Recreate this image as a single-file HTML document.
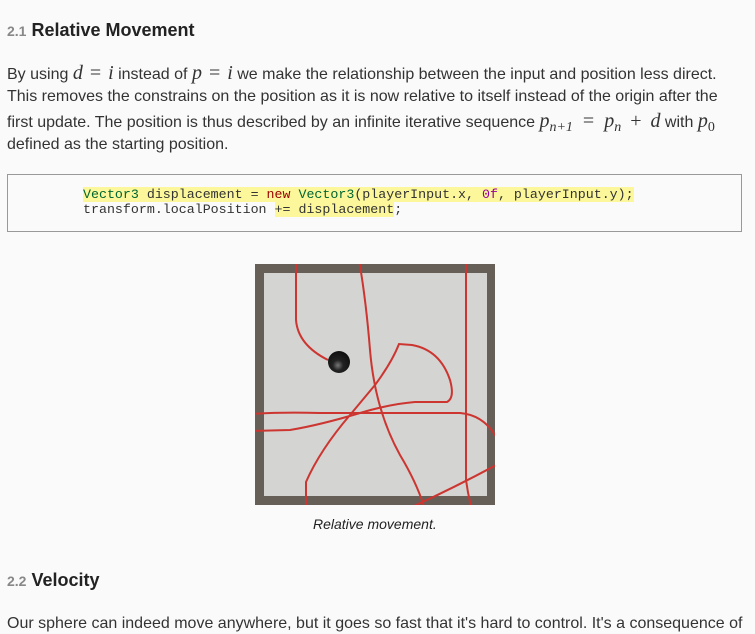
<!DOCTYPE html>
<html><head><meta charset="utf-8"><style>
body{margin:0;background:#fafafa;width:755px;height:621px;overflow:hidden;font-family:"Liberation Sans",sans-serif;color:#222;position:relative}
.a{position:absolute;white-space:nowrap}
.h{font-size:18px;font-weight:bold;color:#222}
.h small{font-size:14px;color:#888;font-weight:bold}
.t{font-size:16px;color:#333;left:7px;line-height:20px}
.m{font-family:"Liberation Serif",serif;font-style:italic;font-size:20px}
.r{font-family:"Liberation Serif",serif;font-size:20px;margin:0 7px}
sub{line-height:0;font-size:14px;vertical-align:-4px}
.code{position:absolute;left:7px;top:174px;width:733px;height:56px;border:1px solid #999;background:#fafafa}
.c{font-family:"Liberation Mono",monospace;font-size:13.3px;color:#333;position:absolute;left:83px}
.hl{background:#fbf79a}
.g{color:#063}.k{color:#900}.n{color:#909}
</style></head><body>
<div class="a h" style="left:7px;top:20px"><small>2.1</small> Relative Movement</div>
<div class="a t" style="top:63px">By using <span class="m">d</span><span class="r">=</span><span class="m">i</span> instead of <span class="m">p</span><span class="r">=</span><span class="m">i</span> we make the relationship between the input and position less direct.</div>
<div class="a t" style="top:87px">This removes the constrains on the position as it is now relative to itself instead of the origin after the</div>
<div class="a t" style="top:111px">first update. The position is thus described by an infinite iterative sequence <span class="m">p<sub>n+1</sub></span><span class="r" style="margin:0 10px">=</span><span class="m">p<sub>n</sub></span><span class="r" style="margin:0 9px">+</span><span class="m">d</span> with <span class="m">p<sub style="font-style:normal">0</sub></span></div>
<div class="a t" style="top:135px">defined as the starting position.</div>
<div class="code"></div>
<div class="c a" style="top:187px"><span class="hl"><span class="g">Vector3</span> displacement = <span class="k">new</span> <span class="g">Vector3</span>(playerInput.x, <span class="n">0f</span>, playerInput.y);</span></div>
<div class="c a" style="top:202px">transform.localPosition <span class="hl">+= displacement</span>;</div>
<svg class="a" style="left:0;top:0" width="755" height="621">
<defs><radialGradient id="b" cx="0.45" cy="0.65" r="0.6"><stop offset="0" stop-color="#777"/><stop offset="0.4" stop-color="#222"/><stop offset="1" stop-color="#111"/></radialGradient>
<clipPath id="cl"><rect x="255" y="264" width="240" height="241"/></clipPath></defs>
<rect x="255" y="264" width="240" height="241" fill="#655f58"/>
<rect x="264" y="273" width="223" height="223" fill="#d4d4d2"/>
<g clip-path="url(#cl)" fill="none" stroke="#cc3530" stroke-width="2">
<path d="M296,260 L296,320 Q298,345 328,360"/>
<path d="M359,260 Q366,300 370,350 Q375,410 400,455 Q418,485 425,510"/>
<path d="M466,260 L466,480 Q468,495 472,510"/>
<path d="M306,510 L306,482 Q320,450 350,415 L375,385 Q392,362 399,344 L412,345 Q440,350 450,380 Q455,398 447,402 L415,402 Q390,404 360,413 Q320,425 290,430 L250,431"/>
<path d="M250,414 Q280,412 320,413 L460,413 Q485,415 498,440"/>
<path d="M405,510 Q450,490 500,463"/>
</g>
<circle cx="339" cy="362" r="11" fill="url(#b)"/>
</svg>
<div class="a" style="left:313px;top:516px;font-size:14px;font-style:italic;color:#222">Relative movement.</div>
<div class="a h" style="left:7px;top:570px"><small>2.2</small> Velocity</div>
<div class="a t" style="top:614px">Our sphere can indeed move anywhere, but it goes so fast that it's hard to control. It's a consequence of</div>
</body></html>
